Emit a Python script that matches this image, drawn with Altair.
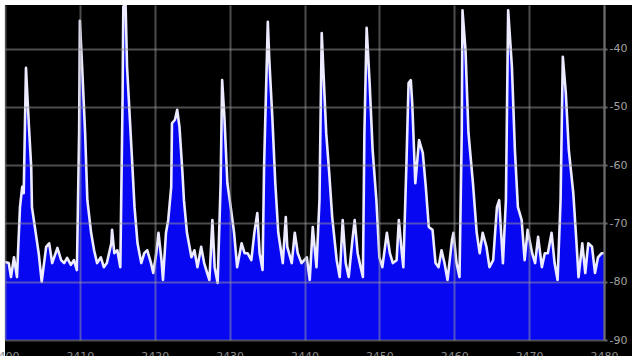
import altair as alt
import pandas as pd

# Frequency (MHz) of each trace point
freq = [
    2400.0, 2400.5, 2400.8, 2401.2, 2401.6, 2402.0, 2402.3, 2402.5, 2402.8, 2403.2,
    2403.5, 2403.6, 2404.1, 2404.5, 2404.9, 2405.5, 2405.9, 2406.3, 2407.0, 2407.5,
    2407.9, 2408.3, 2408.8, 2409.2, 2409.6, 2409.9, 2410.0, 2410.3, 2410.7, 2411.0,
    2411.5, 2411.9, 2412.3, 2412.8, 2413.2, 2413.6, 2414.2, 2414.3, 2414.6, 2415.0,
    2415.4, 2415.7, 2415.8, 2416.1, 2416.3, 2416.9, 2417.3, 2417.7, 2418.2, 2418.6,
    2419.0, 2419.5, 2419.8, 2420.2, 2420.5, 2420.9, 2421.1, 2421.5, 2421.8, 2422.2,
    2422.3, 2422.7, 2423.0, 2423.3, 2423.7, 2423.9, 2424.3, 2424.9, 2425.3, 2425.7,
    2426.2, 2426.6, 2427.0, 2427.3, 2427.7, 2428.0, 2428.4, 2428.8, 2429.0, 2429.3,
    2429.7, 2430.2, 2430.6, 2431.0, 2431.6, 2432.0, 2432.4, 2432.9, 2433.3, 2433.7,
    2434.0, 2434.4, 2434.6, 2435.1, 2435.3, 2435.7, 2436.1, 2436.5, 2437.1, 2437.5,
    2437.7, 2438.3, 2438.7, 2439.1, 2439.6, 2440.3, 2440.7, 2441.1, 2441.6, 2442.0,
    2442.3, 2442.5, 2442.9, 2443.3, 2443.7, 2444.3, 2444.7, 2445.1, 2445.5, 2445.9,
    2446.4, 2446.7, 2447.1, 2447.5, 2447.8, 2448.0, 2448.3, 2448.7, 2449.1, 2449.6,
    2450.0, 2450.4, 2451.0, 2451.4, 2451.8, 2452.3, 2452.6, 2453.0, 2453.2, 2453.6,
    2453.9, 2454.2, 2454.4, 2454.8, 2455.3, 2455.8, 2456.2, 2456.6, 2457.1, 2457.5,
    2457.9, 2458.3, 2458.7, 2459.1, 2459.7, 2459.9, 2460.3, 2460.7, 2461.0, 2461.1,
    2461.5, 2461.9, 2462.5, 2463.0, 2463.4, 2463.8, 2464.3, 2464.7, 2465.2, 2465.7,
    2466.0, 2466.5, 2466.9, 2467.2, 2467.7, 2468.1, 2468.5, 2469.0, 2469.4, 2469.8,
    2470.4, 2470.8, 2471.2, 2471.7, 2472.1, 2472.5, 2473.0, 2473.4, 2473.8, 2474.2,
    2474.5, 2474.9, 2475.3, 2475.9, 2476.3, 2476.6, 2477.1, 2477.5, 2477.9, 2478.4,
    2478.8, 2479.2, 2479.7, 2480.0,
]

# Level (dBm) of each trace point
level = [
    -76.6, -76.8, -79.2, -75.8, -79.2, -67.2, -63.7, -64.8, -43.3, -53.4,
    -60.3, -67.2, -71.6, -75.1, -80.0, -74.0, -73.4, -76.8, -74.2, -76.3,
    -76.8, -75.9, -77.1, -76.3, -78.0, -54.5, -35.2, -43.1, -54.5, -66.0,
    -71.6, -74.6, -76.8, -75.8, -77.5, -76.8, -73.4, -71.1, -75.1, -74.6,
    -77.5, -48.8, -32.8, -32.2, -43.1, -57.4, -67.2, -73.4, -76.8, -75.1,
    -74.6, -76.8, -78.5, -75.1, -71.6, -76.3, -79.7, -71.6, -69.4, -63.7,
    -52.8, -52.2, -50.5, -53.4, -61.3, -66.0, -71.6, -75.8, -74.6, -77.5,
    -74.0, -76.8, -78.5, -79.7, -69.4, -77.5, -80.2, -63.1, -45.4, -51.7,
    -63.1, -67.7, -71.6, -77.5, -73.4, -75.1, -75.1, -76.3, -71.6, -68.2,
    -75.1, -78.0, -60.3, -35.4, -41.9, -51.7, -63.1, -71.6, -76.8, -68.9,
    -74.0, -76.8, -71.6, -75.1, -76.8, -75.8, -79.7, -70.6, -77.5, -66.0,
    -37.3, -43.1, -54.5, -61.3, -68.9, -76.3, -79.2, -69.4, -76.8, -79.2,
    -72.8, -69.4, -75.1, -77.5, -79.2, -54.5, -36.4, -45.9, -57.4, -66.0,
    -75.8, -77.5, -71.6, -75.1, -76.8, -76.3, -69.4, -75.1, -77.5, -60.3,
    -45.9, -45.4, -49.7, -63.1, -55.7, -57.9, -63.7, -70.6, -71.1, -76.8,
    -77.5, -74.6, -76.8, -79.7, -72.8, -71.6, -76.8, -79.2, -54.5, -33.4,
    -40.2, -54.5, -63.1, -71.6, -75.1, -71.6, -74.0, -77.5, -76.3, -67.2,
    -66.0, -76.8, -66.0, -33.4, -43.1, -57.4, -67.2, -69.4, -76.3, -71.1,
    -75.1, -76.8, -72.3, -77.5, -75.1, -75.1, -71.6, -76.8, -79.7, -66.0,
    -41.4, -47.6, -57.4, -64.8, -72.8, -79.2, -73.4, -78.5, -73.4, -74.0,
    -78.5, -75.8, -75.1, -75.1,
]

x_ticks = [2400, 2410, 2420, 2430, 2440, 2450, 2460, 2470, 2480]
y_ticks = [-90, -80, -70, -60, -50, -40]

df = pd.DataFrame({"freq": freq, "level": level})

W, H = 599, 335

x_enc = alt.X(
    "freq:Q",
    scale=alt.Scale(domain=[2400, 2480], nice=False, zero=False),
    axis=alt.Axis(
        values=x_ticks, orient="bottom", title=None, domain=False, ticks=False,
        labelPadding=10, labelFontSize=11, labelColor="#8a8a8a", labelFlush=False,
        labelOverlap=False, grid=True, gridColor="#9a9a9a", gridOpacity=0.5,
        gridWidth=2, zindex=1, format="d",
    ),
)
y_scale = alt.Scale(domain=[-90, -32.5], nice=False, zero=False)
y_enc = alt.Y(
    "level:Q",
    scale=y_scale,
    axis=alt.Axis(
        values=y_ticks, orient="right", title=None, domain=True, domainColor="#6a6a6a",
        domainWidth=2, ticks=True, tickSize=3, tickColor="#6a6a6a", tickWidth=2,
        labelPadding=2, labelFontSize=11, labelColor="#a0a0a0",
        labelExpr="'-' + format(abs(datum.value), 'd')",
        grid=True, gridColor="#9a9a9a", gridOpacity=0.5, gridWidth=2, zindex=1,
    ),
)

base = alt.Chart(df)

area = base.mark_area(color="#0707f2", clip=True, interpolate="linear").encode(
    x=x_enc, y=y_enc, y2=alt.datum(-90)
)
line = base.mark_line(color="#ecebff", strokeWidth=2.6, clip=True,
                      strokeJoin="round").encode(
    x="freq:Q", y="level:Q"
)

# white frame strips of the screenshot (top and left)
frame_top = alt.Chart(pd.DataFrame({"k": [0]})).mark_rect(color="white", clip=False).encode(
    x=alt.value(-5), x2=alt.value(W + 28), y=alt.value(-5), y2=alt.value(0)
)
frame_left = alt.Chart(pd.DataFrame({"k": [0]})).mark_rect(color="white", clip=False).encode(
    x=alt.value(-5), x2=alt.value(0), y=alt.value(-5), y2=alt.value(H + 16)
)

chart = (
    alt.layer(area, line, frame_top, frame_left)
    .properties(
        width=W, height=H, background="black",
        padding={"left": 5, "top": 5, "right": 28, "bottom": 16},
        autosize=alt.AutoSizeParams(type="none"),
    )
    .configure_view(stroke=None, fill="black")
    .configure_axis(labelFont="DejaVu Sans")
)

chart.save("out.html", embed_options={"renderer": "svg", "actions": False})
